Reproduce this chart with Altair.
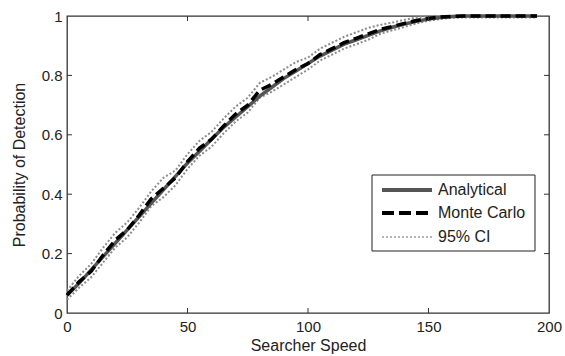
import altair as alt
import pandas as pd

# ---- data ----
speed = [0, 5, 10, 15, 20, 25, 30, 35, 40, 45, 50, 55, 60, 65, 70, 75, 80, 85, 90, 95,
         100, 105, 110, 115, 120, 125, 130, 135, 140, 145, 150, 155, 160, 165, 170, 175,
         180, 185, 190, 195]
analytical = [0.06, 0.10, 0.145, 0.19, 0.235, 0.28, 0.325, 0.37, 0.415, 0.46, 0.505, 0.545,
              0.585, 0.625, 0.66, 0.695, 0.73, 0.76, 0.79, 0.815, 0.84, 0.865, 0.885, 0.905,
              0.92, 0.935, 0.95, 0.962, 0.973, 0.982, 0.99, 0.995, 0.998, 1.0, 1.0, 1.0,
              1.0, 1.0, 1.0, 1.0]
monte_carlo = [0.06, 0.105, 0.14, 0.195, 0.245, 0.28, 0.33, 0.385, 0.42, 0.455, 0.51, 0.555,
               0.585, 0.63, 0.67, 0.70, 0.75, 0.77, 0.795, 0.82, 0.84, 0.87, 0.89, 0.91,
               0.925, 0.94, 0.955, 0.965, 0.975, 0.985, 0.992, 0.997, 0.999, 1.0, 1.0, 1.0,
               1.0, 1.0, 1.0, 1.0]
ci_lower = [0.045, 0.085, 0.12, 0.17, 0.22, 0.255, 0.305, 0.36, 0.39, 0.43, 0.485, 0.53,
            0.56, 0.605, 0.645, 0.675, 0.725, 0.745, 0.77, 0.795, 0.82, 0.85, 0.87, 0.89,
            0.905, 0.92, 0.94, 0.952, 0.963, 0.975, 0.984, 0.99, 0.994, 0.995, 0.995, 0.995,
            0.995, 0.995, 0.995, 0.995]
ci_upper = [0.075, 0.125, 0.165, 0.22, 0.27, 0.305, 0.355, 0.41, 0.455, 0.48, 0.535, 0.58,
            0.61, 0.655, 0.695, 0.725, 0.775, 0.795, 0.82, 0.845, 0.86, 0.89, 0.91, 0.93,
            0.945, 0.96, 0.97, 0.978, 0.987, 0.995, 1.0, 1.0, 1.0, 1.0, 1.0, 1.0,
            1.0, 1.0, 1.0, 1.0]

x_ticks = [50, 100, 150]
y_ticks = [0.2, 0.4, 0.6, 0.8]
legend_labels = ["Analytical", "Monte Carlo", "95% CI"]

W, H = 482, 297
FONT = "Liberation Sans"
TXT = "#222222"

df = pd.DataFrame({
    "speed": speed * 4,
    "p": analytical + monte_carlo + ci_lower + ci_upper,
    "series": ["Analytical"] * 40 + ["Monte Carlo"] * 40 + ["95% CI"] * 80,
    "line": ["a"] * 40 + ["m"] * 40 + ["lo"] * 40 + ["hi"] * 40,
})

xs = alt.Scale(domain=[0, 200], nice=False)
ys = alt.Scale(domain=[0, 1], nice=False)

base = alt.Chart(df)

x_enc = alt.X("speed:Q", scale=xs,
              axis=alt.Axis(title="Searcher Speed", values=[0, 50, 100, 150, 200],
                            ticks=False, domain=False, grid=False, labelPadding=6,
                            titlePadding=3, labelFontSize=15, titleFontSize=16,
                            labelFont=FONT, titleFont=FONT, labelColor=TXT, titleColor=TXT,
                            titleFontWeight="normal", labelFlush=False))
y_enc = alt.Y("p:Q", scale=ys,
              axis=alt.Axis(title="Probability of Detection", values=[0, 0.2, 0.4, 0.6, 0.8, 1],
                            ticks=False, domain=False, grid=False, labelPadding=5,
                            titlePadding=14, labelFontSize=15, titleFontSize=16,
                            labelFont=FONT, titleFont=FONT, labelColor=TXT, titleColor=TXT,
                            titleFontWeight="normal", labelFlush=False,
                            labelExpr="datum.value == 0 ? '0' : datum.value == 1 ? '1' : format(datum.value, '.1f')"))

ci = base.transform_filter(alt.datum.series == "95% CI").mark_line(
    color="#8c8c8c", strokeWidth=2, strokeDash=[2, 2]
).encode(x=x_enc, y=y_enc, detail="line:N")

ana = base.transform_filter(alt.datum.series == "Analytical").mark_line(
    color="#555555", strokeWidth=3.5
).encode(x=x_enc, y=y_enc)

mc = base.transform_filter(alt.datum.series == "Monte Carlo").mark_line(
    color="#000000", strokeWidth=3.5, strokeDash=[10, 5]
).encode(x=x_enc, y=y_enc)

# inward ticks on all four sides
xt = pd.DataFrame({"t": x_ticks})
yt = pd.DataFrame({"t": y_ticks})
tick_x_bottom = alt.Chart(xt).mark_rule(color="#333333", strokeWidth=1).encode(
    x=alt.X("t:Q", scale=xs), y=alt.value(H), y2=alt.value(H - 5))
tick_x_top = alt.Chart(xt).mark_rule(color="#333333", strokeWidth=1).encode(
    x=alt.X("t:Q", scale=xs), y=alt.value(0), y2=alt.value(5))
tick_y_left = alt.Chart(yt).mark_rule(color="#333333", strokeWidth=1).encode(
    y=alt.Y("t:Q", scale=ys), x=alt.value(0), x2=alt.value(5))
tick_y_right = alt.Chart(yt).mark_rule(color="#333333", strokeWidth=1).encode(
    y=alt.Y("t:Q", scale=ys), x=alt.value(W), x2=alt.value(W - 5))

# legend box (drawn manually)
lx0, lx1, ly0, ly1 = 305, 468, 159, 235
legend_box = alt.Chart(pd.DataFrame({"k": [0]})).mark_rect(
    fill="white", stroke="#222222", strokeWidth=1
).encode(x=alt.value(lx0), x2=alt.value(lx1), y=alt.value(ly0), y2=alt.value(ly1))

sx0, sx1, tx = 315, 365, 371
rows = [174, 197, 221]
leg_ana = alt.Chart(pd.DataFrame({"k": [0]})).mark_rule(color="#555555", strokeWidth=4).encode(
    x=alt.value(sx0), x2=alt.value(sx1), y=alt.value(rows[0]))
leg_mc = alt.Chart(pd.DataFrame({"k": [0]})).mark_rule(color="#000000", strokeWidth=4,
                                                        strokeDash=[12, 5]).encode(
    x=alt.value(sx0), x2=alt.value(sx1), y=alt.value(rows[1]))
leg_ci = alt.Chart(pd.DataFrame({"k": [0]})).mark_rule(color="#a0a0a0", strokeWidth=1.6,
                                                        strokeDash=[2, 2]).encode(
    x=alt.value(sx0), x2=alt.value(sx1), y=alt.value(rows[2]))
leg_text = [
    alt.Chart(pd.DataFrame({"label": [lab]})).mark_text(
        align="left", baseline="middle", font=FONT, fontSize=16, color=TXT
    ).encode(x=alt.value(tx), y=alt.value(r), text="label:N")
    for lab, r in zip(legend_labels, rows)
]

chart = alt.layer(
    ci, ana, mc,
    tick_x_bottom, tick_x_top, tick_y_left, tick_y_right,
    legend_box, leg_ana, leg_mc, leg_ci, *leg_text
).properties(
    width=W, height=H,
    autosize=alt.AutoSizeParams(type="none"),
    padding={"left": 67, "top": 16, "right": 16, "bottom": 43},
    background="white",
).configure_view(stroke="#333333", strokeWidth=1.3)

chart.save("out.html", embed_options={"renderer": "svg", "actions": False})
